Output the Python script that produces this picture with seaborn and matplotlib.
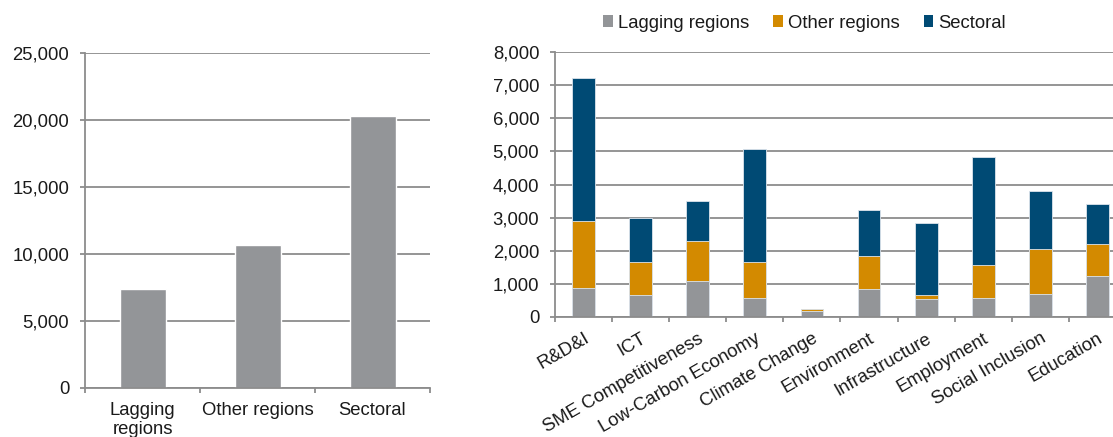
import matplotlib
matplotlib.use("Agg")
import matplotlib.pyplot as plt
import seaborn as sns
import pandas as pd
from matplotlib.patches import Patch
from matplotlib.ticker import FuncFormatter

# ---------------- data ----------------
totals_categories = ["Lagging\nregions", "Other regions", "Sectoral"]
totals_values = [7400, 10670, 20340]

themes = ["R&D&I", "ICT", "SME Competitiveness", "Low-Carbon Economy",
          "Climate Change", "Environment", "Infrastructure", "Employment",
          "Social Inclusion", "Education"]
lagging = [870, 650, 1070, 555, 160, 830, 535, 575, 675, 1220]
other = [2020, 1010, 1230, 1085, 80, 1010, 120, 1000, 1375, 980]
sectoral = [4320, 1330, 1210, 3435, 0, 1385, 2180, 3270, 1760, 1220]
series_names = ["Lagging regions", "Other regions", "Sectoral"]

GRAY = "#939598"
ORANGE = "#D38A00"
BLUE = "#004A74"
GRID = "#8C8C8C"
TXT = "#1a1a1a"
FS = 13.3

sns.set_theme(style="white")
plt.rcParams["font.family"] = ["Liberation Sans", "DejaVu Sans"]

W, H = 1113, 437
fig = plt.figure(figsize=(W / 100, H / 100), dpi=100)
ax1 = fig.add_axes([85 / W, (H - 387.7) / H, 345 / W, 334.4 / H])
ax2 = fig.add_axes([555 / W, (H - 316.7) / H, 571 / W, 264.4 / H])

fmt = FuncFormatter(lambda v, p: f"{v:,.0f}")


def style_axes(ax, ymax, step, ncat):
    ax.set_ylim(0, ymax)
    ax.set_xlim(-0.5, ncat - 0.5)
    ax.set_yticks(range(0, ymax + 1, step))
    ax.yaxis.set_major_formatter(fmt)
    ax.yaxis.grid(True, color=GRID, linewidth=1.3)
    ax.xaxis.grid(False)
    ax.set_axisbelow(True)
    for s in ["top", "right"]:
        ax.spines[s].set_visible(False)
    for s in ["left", "bottom"]:
        ax.spines[s].set_visible(True)
        ax.spines[s].set_color(GRID)
        ax.spines[s].set_linewidth(1.3)
    ax.set_xticks([i - 0.5 for i in range(ncat + 1)], minor=True)
    ax.tick_params(axis="x", which="minor", bottom=True, length=3.6, width=1.3, color=GRID)
    ax.tick_params(axis="x", which="major", bottom=True, length=0, labelsize=FS, labelcolor=TXT)
    ax.tick_params(axis="y", which="major", left=True, length=3.8, width=1.3, color=GRID,
                   pad=7.5, labelsize=FS, labelcolor=TXT)
    ax.set_xlabel("")
    ax.set_ylabel("")


# ---------------- left chart ----------------
df1 = pd.DataFrame({"category": totals_categories, "value": totals_values})
sns.barplot(data=df1, x="category", y="value", color=GRAY, saturation=1,
            width=0.4, ax=ax1)
style_axes(ax1, 25000, 5000, len(totals_categories))
ax1.tick_params(axis="x", which="major", pad=10.3)
for lab in ax1.get_xticklabels():
    lab.set_linespacing(1.15)

# ---------------- right chart (stacked via cumulative overlay) ----------------
df2 = pd.DataFrame({"theme": themes, "Lagging regions": lagging,
                    "Other regions": other, "Sectoral": sectoral})
df2["c1"] = df2["Lagging regions"]
df2["c2"] = df2["c1"] + df2["Other regions"]
df2["c3"] = df2["c2"] + df2["Sectoral"]

for col, colr in [("c3", BLUE), ("c2", ORANGE), ("c1", GRAY)]:
    sns.barplot(data=df2, x="theme", y=col, color=colr, saturation=1, width=0.4,
                edgecolor="#dde4ec", linewidth=0.6, ax=ax2)
style_axes(ax2, 8000, 1000, len(themes))
ax2.tick_params(axis="x", which="major", pad=9.6)
for lab in ax2.get_xticklabels():
    lab.set_rotation(30)
    lab.set_ha("right")
    lab.set_rotation_mode("anchor")

# ---------------- legend ----------------
handles = [Patch(facecolor=c, edgecolor="none") for c in (GRAY, ORANGE, BLUE)]
fig.legend(handles, series_names, loc="center", bbox_to_anchor=(804.5 / W, 1 - 23 / H),
           ncol=3, frameon=False, handlelength=0.52, handleheight=0.55,
           handletextpad=0.28, columnspacing=1.3, fontsize=FS, labelcolor=TXT,
           borderpad=0, borderaxespad=0)

fig.savefig("out.png", dpi=100)
